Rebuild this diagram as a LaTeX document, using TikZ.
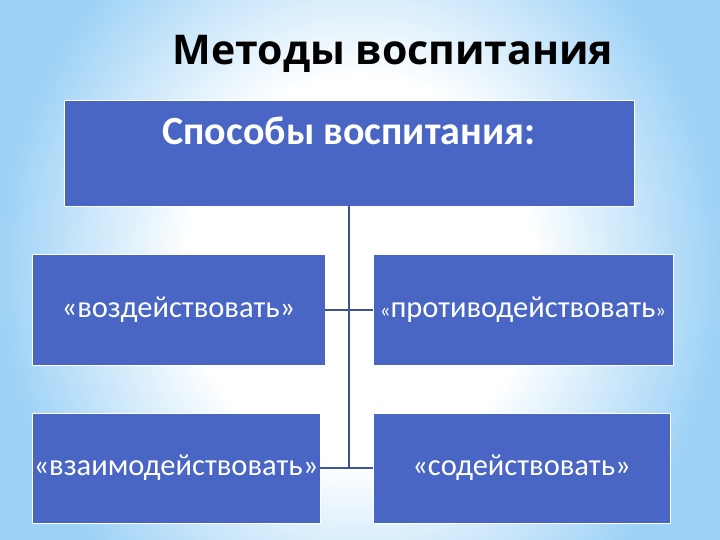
\documentclass[tikz,border=0pt]{standalone}
\usepackage{fontspec}
\setmainfont{Carlito}
\newfontfamily\titlefont{Open Sans}

\definecolor{bgblue}{RGB}{158,210,246}
\definecolor{boxblue}{RGB}{74,102,196}
\definecolor{linkblue}{RGB}{62,85,144}

\pgfdeclareradialshading{backshade}{\pgfpoint{0bp}{0bp}}{%
  color(0bp)=(white); color(12bp)=(white); color(25bp)=(bgblue); color(50bp)=(bgblue)}

\newcommand{\smallq}[1]{{\fontsize{21}{24}\selectfont #1}}

\begin{document}
\begin{tikzpicture}[x=1pt,y=-1pt]
        \tikzstyle{box}=[rectangle,draw=white,line width=0.8pt,fill=boxblue,text=white,inner sep=0pt]
        \tikzstyle{link}=[draw=linkblue,line width=1.4pt]
        \tikzstyle{word}=[font=\fontsize{30.5}{33}\selectfont]
        % background
        \useasboundingbox (0,0) rectangle (720,540);
        \begin{scope}
          \clip (0,0) rectangle (720,540);
          \shade[shading=backshade] (0,-130) rectangle (720,670);
        \end{scope}
        % title
        \node (title) at (393,54) {\titlefont\bfseries\fontsize{41}{44}\selectfont Методы воспитания};
        % top box
        \node[box,minimum width=570,minimum height=106,text height=24pt,text depth=40pt,
              font=\bfseries\fontsize{40}{43}\selectfont] (top) at (349,153) {Способы воспитания:};
        % second row
        \node[box,word,minimum width=293,minimum height=111] (influence) at (178.5,310) {«воздействовать»};
        \node[box,word,minimum width=300,minimum height=111] (oppose) at (523,310) {\smallq{«}противодействовать\smallq{»}};
        % third row
        \node[box,word,minimum width=288,minimum height=110] (interact) at (176,468) {«взаимодействовать»};
        \node[box,word,minimum width=297,minimum height=110] (assist) at (521.5,468) {«содействовать»};
        % connectors
        \draw[link] (top.south) -- (top.south |- interact.east);
        \draw[link] (influence.east) -- (oppose.west);
        \draw[link] (interact.east) -- (assist.west);
\end{tikzpicture}
\end{document}
